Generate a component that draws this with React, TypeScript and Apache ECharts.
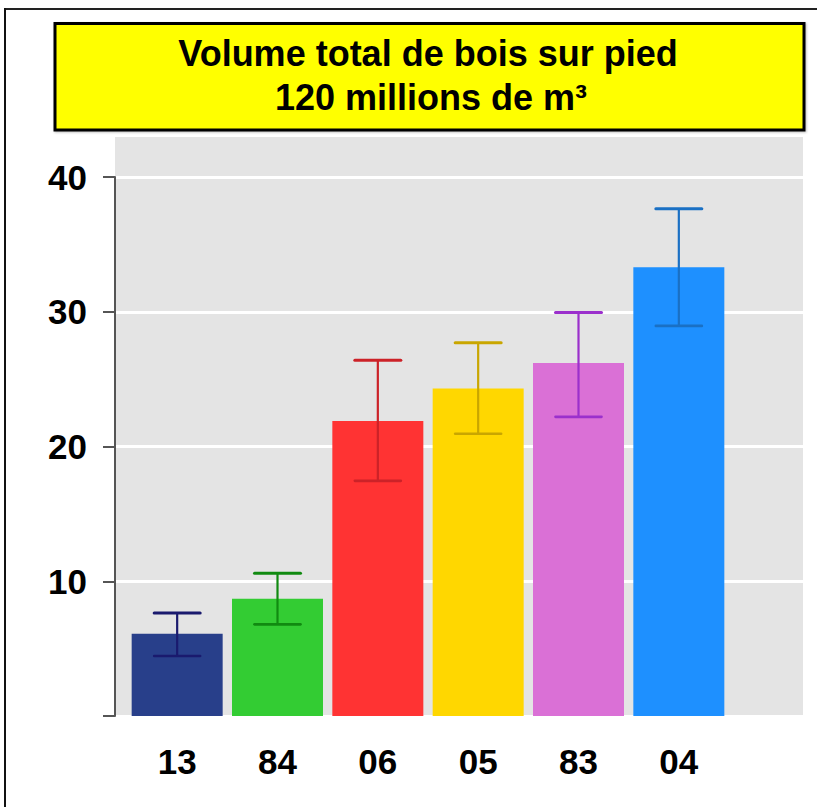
import React, { useEffect, useRef } from "react";
import * as echarts from "echarts";

const categories = ["13", "84", "06", "05", "83", "04"];
const values = [6.1, 8.7, 21.9, 24.3, 26.2, 33.3];
const lowValues = [4.45, 6.8, 17.45, 20.95, 22.2, 28.95];
const highValues = [7.65, 10.6, 26.4, 27.7, 29.95, 37.65];
const barColors = ["#283f8a", "#33cc33", "#ff3333", "#ffd700", "#da70d6", "#1e90ff"];
const errColors = ["#1a1a6e", "#118a11", "#cc2228", "#c9a600", "#9b30cc", "#1a70c4"];
const yTicks = { min: 0, max: 40, interval: 10 };
const titleLine1 = "Volume total de bois sur pied";
const titleLine2 = "120 millions de m³";

const FONT = "'Liberation Sans', Arial, sans-serif";

export default function App() {
  const ref = useRef<HTMLDivElement>(null);
  useEffect(() => {
    if (!ref.current) return;
    const chart = echarts.init(ref.current, null, { renderer: "svg" });
    const errData = categories.map((_, i) => [i, lowValues[i], highValues[i]]);
    chart.setOption({
      animation: false,
      backgroundColor: "#ffffff",
      textStyle: { fontFamily: FONT },
      graphic: [
        { type: "line", z: 20, shape: { x1: 4, y1: 9, x2: 817, y2: 9 }, style: { stroke: "#222", lineWidth: 2 } },
        { type: "line", z: 20, shape: { x1: 5, y1: 8, x2: 5, y2: 807 }, style: { stroke: "#111", lineWidth: 2 } },
        { type: "rect", z: -1, shape: { x: 115, y: 137, width: 688, height: 580 }, style: { fill: "#e4e4e4" } },
        {
          type: "rect",
          z: 20,
          shape: { x: 55, y: 23.5, width: 749, height: 106.5 },
          style: { fill: "#ffff00", stroke: "#000", lineWidth: 3, shadowColor: "rgba(0,0,0,0.25)", shadowBlur: 2, shadowOffsetX: 1, shadowOffsetY: 1 },
        },
        {
          type: "text",
          z: 21,
          x: 428,
          y: 53,
          style: { text: titleLine1, fontFamily: FONT, fontWeight: "bold", fontSize: 36, fill: "#000", align: "center", verticalAlign: "middle" },
        },
        {
          type: "text",
          z: 21,
          x: 431,
          y: 97,
          style: { text: titleLine2, fontFamily: FONT, fontWeight: "bold", fontSize: 36, fill: "#000", align: "center", verticalAlign: "middle" },
        },
      ],
      grid: [
        { left: 115, right: 14, top: 177, bottom: 91 },
        { left: 127, right: 88, top: 177, bottom: 91 },
      ],
      xAxis: [
        { type: "value", gridIndex: 0, min: 0, max: 1, show: false },
        {
          type: "category",
          gridIndex: 1,
          data: categories,
          axisLine: { show: false },
          axisTick: { show: false },
          axisLabel: { color: "#000", fontFamily: FONT, fontWeight: "bold", fontSize: 35, margin: 28 },
        },
      ],
      yAxis: [
        {
          type: "value",
          gridIndex: 0,
          min: yTicks.min,
          max: yTicks.max,
          interval: yTicks.interval,
          axisLine: { show: true, lineStyle: { color: "#555", width: 2 } },
          axisTick: { show: true, length: 12, lineStyle: { color: "#555", width: 2 } },
          axisLabel: {
            color: "#000",
            fontFamily: FONT,
            fontWeight: "bold",
            fontSize: 35,
            margin: 28,
            formatter: (v: number) => (v === 0 ? "" : String(v)),
          },
          splitLine: { show: true, lineStyle: { color: "#ffffff", width: 3 } },
        },
        { type: "value", gridIndex: 1, min: yTicks.min, max: yTicks.max, show: false, splitLine: { show: false } },
      ],
      series: [
        {
          type: "bar",
          xAxisIndex: 1,
          yAxisIndex: 1,
          barWidth: 91,
          data: values.map((v, i) => ({ value: v, itemStyle: { color: barColors[i] } })),
        },
        {
          type: "custom",
          xAxisIndex: 1,
          yAxisIndex: 1,
          z: 5,
          data: errData,
          renderItem: (params: any, api: any) => {
            const idx = api.value(0);
            const lo = api.coord([idx, api.value(1)]);
            const hi = api.coord([idx, api.value(2)]);
            const half = 23;
            const color = errColors[params.dataIndex];
            return {
              type: "group",
              children: [
                { type: "line", shape: { x1: hi[0], y1: hi[1], x2: lo[0], y2: lo[1] }, style: { stroke: color, lineWidth: 2.2 } },
                { type: "line", shape: { x1: hi[0] - half, y1: hi[1], x2: hi[0] + half, y2: hi[1] }, style: { stroke: color, lineWidth: 3, lineCap: "round" } },
                { type: "line", shape: { x1: lo[0] - half, y1: lo[1], x2: lo[0] + half, y2: lo[1] }, style: { stroke: color, lineWidth: 2.6, lineCap: "round" } },
              ],
            };
          },
        },
      ],
    });
    return () => chart.dispose();
  }, []);
  return <div ref={ref} style={{ position: "fixed", left: 0, top: 0, width: 817, height: 807 }} />;
}
